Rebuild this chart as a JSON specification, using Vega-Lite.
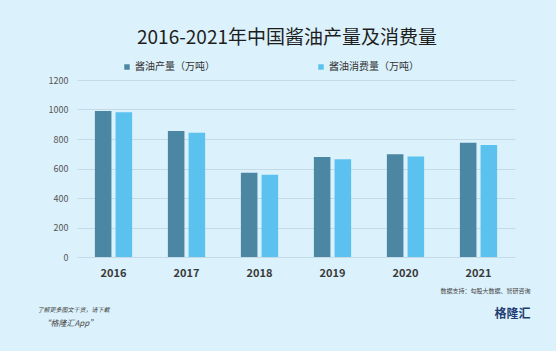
{
  "$schema": "https://vega.github.io/schema/vega-lite/v6.json",
  "width": 438,
  "height": 177,
  "autosize": {"type": "none"},
  "padding": {"left": 77, "top": 80, "right": 41, "bottom": 94},
  "background": "#dbf1fb",
  "title": {
    "text": "2016-2021年中国酱油产量及消费量",
    "font": "Noto Sans CJK SC",
    "fontSize": 19,
    "fontWeight": "normal",
    "color": "#1e1e1e",
    "anchor": "middle",
    "frame": "group",
    "dx": -9,
    "offset": 14
  },
  "config": {
    "view": {"stroke": null},
    "font": "Noto Sans CJK SC"
  },
  "data": {
    "values": [
      {"year": "2016", "series": "酱油产量（万吨）", "value": 990},
      {"year": "2016", "series": "酱油消费量（万吨）", "value": 981},
      {"year": "2017", "series": "酱油产量（万吨）", "value": 854},
      {"year": "2017", "series": "酱油消费量（万吨）", "value": 843},
      {"year": "2018", "series": "酱油产量（万吨）", "value": 572},
      {"year": "2018", "series": "酱油消费量（万吨）", "value": 558},
      {"year": "2019", "series": "酱油产量（万吨）", "value": 678},
      {"year": "2019", "series": "酱油消费量（万吨）", "value": 662},
      {"year": "2020", "series": "酱油产量（万吨）", "value": 696},
      {"year": "2020", "series": "酱油消费量（万吨）", "value": 682},
      {"year": "2021", "series": "酱油产量（万吨）", "value": 775},
      {"year": "2021", "series": "酱油消费量（万吨）", "value": 759}
    ]
  },
  "layer": [
    {
      "mark": {"type": "bar"},
      "encoding": {
        "x": {
          "field": "year",
          "type": "nominal",
          "scale": {"paddingInner": 0.49, "paddingOuter": 0.245},
          "axis": {
            "labelAngle": 0,
            "labelFontSize": 11,
            "labelFontWeight": "bold",
            "labelColor": "#3a3a3a",
            "labelPadding": 10,
            "ticks": false,
            "domain": false,
            "title": "数据支持：勾股大数据、智研咨询",
            "titleFontSize": 6,
            "titleFontWeight": "normal",
            "titleColor": "#444444",
            "titleX": 453,
            "titleY": 33,
            "titleAlign": "right",
            "titleBaseline": "middle",
            "titleAnchor": null
          }
        },
        "xOffset": {
          "field": "series",
          "type": "nominal",
          "sort": ["酱油产量（万吨）", "酱油消费量（万吨）"],
          "scale": {"paddingInner": 0.2}
        },
        "y": {
          "field": "value",
          "type": "quantitative",
          "scale": {"domain": [0, 1200]},
          "axis": {
            "values": [0, 200, 400, 600, 800, 1000, 1200],
            "format": "d",
            "labelFontSize": 9,
            "labelColor": "#555555",
            "labelPadding": 9,
            "ticks": false,
            "domain": false,
            "gridColor": "#c4dae6",
            "gridWidth": 1,
            "title": "了解更多图文干货，请下载",
            "titleFontSize": 6,
            "titleFontWeight": "normal",
            "titleFontStyle": "italic",
            "titleColor": "#444444",
            "titleAngle": 0,
            "titleX": -40,
            "titleY": 229,
            "titleAlign": "left",
            "titleBaseline": "middle",
            "titleAnchor": null
          }
        },
        "color": {
          "field": "series",
          "type": "nominal",
          "scale": {
            "domain": ["酱油产量（万吨）", "酱油消费量（万吨）"],
            "range": ["#4b87a3", "#5bc1ee"]
          },
          "legend": {
            "title": null,
            "orient": "none",
            "legendX": 45,
            "legendY": -18,
            "direction": "horizontal",
            "columns": 2,
            "columnPadding": 101,
            "symbolType": "square",
            "symbolSize": 30,
            "symbolStrokeWidth": 0,
            "labelFontSize": 10,
            "labelColor": "#333333",
            "labelOffset": 3
          }
        }
      }
    },
    {
      "mark": {"type": "bar", "opacity": 0},
      "encoding": {
        "x": {
          "field": "year",
          "type": "nominal",
          "axis": {
            "orient": "top",
            "labels": false,
            "ticks": false,
            "domain": false,
            "grid": false,
            "title": "格隆汇",
            "titleFontSize": 12,
            "titleFontWeight": "bold",
            "titleColor": "#1f3d73",
            "titleX": 453,
            "titleY": 233,
            "titleAlign": "right",
            "titleBaseline": "middle",
            "titleAnchor": null
          }
        },
        "xOffset": {
          "field": "series",
          "type": "nominal",
          "sort": ["酱油产量（万吨）", "酱油消费量（万吨）"]
        },
        "y": {
          "field": "value",
          "type": "quantitative",
          "axis": {
            "orient": "right",
            "labels": false,
            "ticks": false,
            "domain": false,
            "grid": false,
            "title": "“格隆汇App”",
            "titleFontSize": 8,
            "titleFontWeight": "normal",
            "titleFontStyle": "italic",
            "titleColor": "#444444",
            "titleAngle": 0,
            "titleX": -473,
            "titleY": 243,
            "titleAlign": "left",
            "titleBaseline": "middle",
            "titleAnchor": null
          }
        }
      }
    }
  ],
  "resolve": {"axis": {"x": "independent", "y": "independent"}}
}
